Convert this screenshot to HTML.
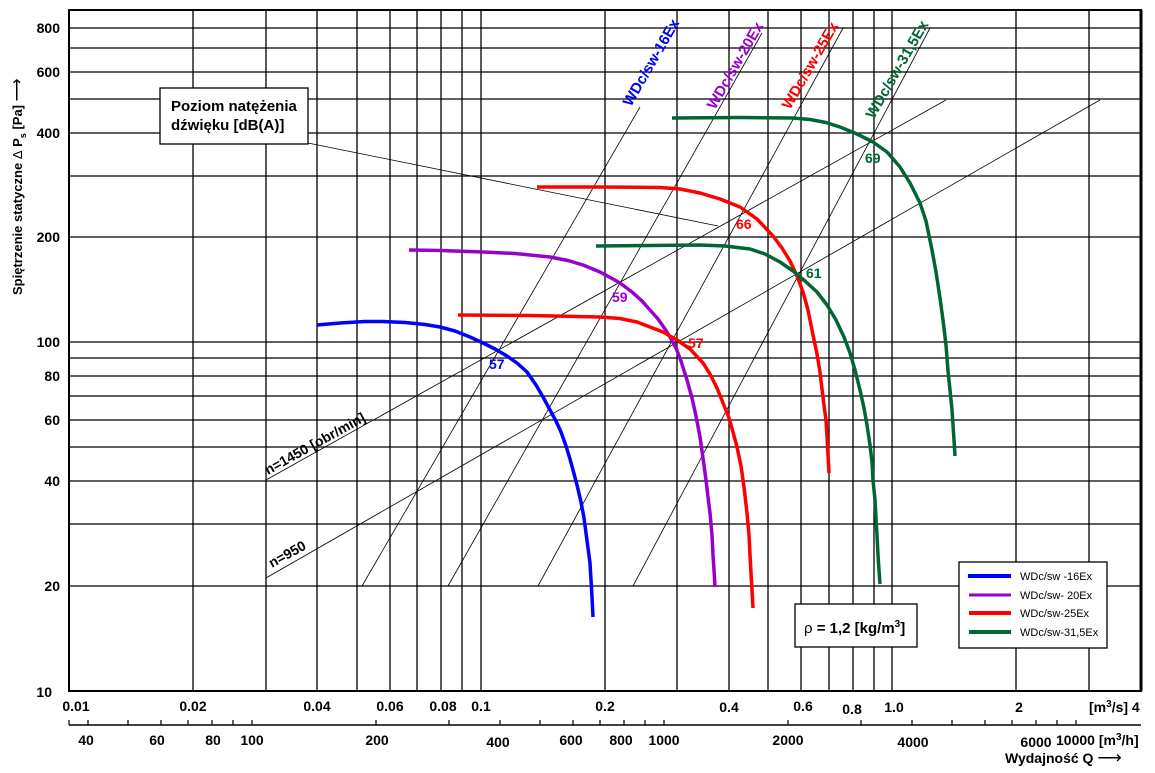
<!DOCTYPE html>
<html><head><meta charset="utf-8"><style>
body{margin:0;background:#fff;width:1155px;height:773px;overflow:hidden}
svg{display:block;font-family:"Liberation Sans",Arial,sans-serif}
</style></head><body>
<svg width="1155" height="773" viewBox="0 0 1155 773">
<g stroke="#000" stroke-width="1.3" fill="none">
<path d="M193 10V691M266 10V691M317 10V691M357 10V691M390 10V691M417 10V691M441 10V691M462 10V691M481 10V691M605 10V691M677 10V691M729 10V691M768 10V691M801 10V691M829 10V691M853 10V691M874 10V691M892 10V691M1016 10V691M1089 10V691"/>
<path d="M69 586H1141M69 524H1141M69 481H1141M69 447H1141M69 420H1141M69 396H1141M69 376H1141M69 358H1141M69 342H1141M69 237H1141M69 176H1141M69 133H1141M69 99H1141M69 72H1141M69 48H1141M69 28H1141"/>
</g>
<rect x="69" y="10" width="1072" height="681" fill="none" stroke="#000" stroke-width="2"/>
<line x1="1141" y1="10" x2="1141" y2="691" stroke="#000" stroke-width="3"/>
<g stroke="#000" stroke-width="0.8" fill="none">
<path d="M362 586L640 107"/>
<path d="M448 586L762 33"/>
<path d="M538 586L843 28"/>
<path d="M633 586L930 28"/>
<path d="M266 480L946 100"/>
<path d="M266 578L1100 100"/>
<path d="M308 143L718 226"/>
</g>
<g fill="none" stroke-width="3.5" stroke-linejoin="round">
<polyline stroke="#0000ff" points="317,325 340,323 365,321.5 383,321.5 405,322.5 425,324.5 440,327 455,331 470,337 483,343 495,349 507,356 517,363 527,372 536,385 543,397 550,410 556,421 561,432 566,446 570,459 573,470 577,485 581,502 584,518 586,533 588,548 590,563 591,580 592,597 593,617"/>
<polyline stroke="#9900cc" points="409,250 440,250.5 483,252 515,253.5 550,257 568,260.5 583,265 600,272 613,279 620,283 632,292 642,301 650,310 658,319 665,329 670,337 676,348 681,361 687,380 692,398 696,416 700,437 703,458 706,480 708,497 710,513 712,535 713,555 714,570 715,587"/>
<polyline stroke="#ff0000" points="458,315 530,315.5 600,317 620,318.5 637,322 650,327 663,332 677,340 690,349 703,363 710,374 717,388 723,403 729,418 733,432 737,447 741,466 744,487 747,513 749,535 750,555 751,573 752,590 753,608"/>
<polyline stroke="#ff0000" points="537,187 600,187 660,187.5 680,189 700,193 720,199 740,207 757,219 773,236 782,248 790,261 797,276 803,292 808,310 813,335 817,354 820,372 822,389 824,405 826,420 827,436 828,455 829,473"/>
<polyline stroke="#006633" points="596,246 650,245.5 700,245 725,246 750,249 765,254 780,262 793,271 805,281 817,292 827,305 836,320 844,337 850,353 855,370 860,390 864,408 867,425 870,445 872,462 873,480 875,500 876,518 877,535 878,555 879,570 880,584"/>
<polyline stroke="#006633" points="672,118 740,117.5 793,118 810,119.5 826,122.5 840,127 857,134 873,142 887,152 900,167 910,183 920,203 926,221 932,250 936,272 940,298 943,320 946,345 948,371 950,390 952,410 953,425 954,440 955,456"/>
</g>
<g font-size="15" font-weight="bold">
<text transform="translate(652,63) rotate(-60)" text-anchor="middle" dominant-baseline="middle" fill="#0000ff">WDc/sw-16Ex</text>
<text transform="translate(736,66) rotate(-60)" text-anchor="middle" dominant-baseline="middle" fill="#9900cc">WDc/sw-20Ex</text>
<text transform="translate(811,66) rotate(-60)" text-anchor="middle" dominant-baseline="middle" fill="#ff0000">WDc/sw-25Ex</text>
<text transform="translate(898,70) rotate(-60)" text-anchor="middle" dominant-baseline="middle" fill="#006633">WDc/sw-31,5Ex</text>
</g>
<g font-size="14" font-weight="bold">
<text x="489" y="369" fill="#0000ff">57</text>
<text x="612" y="302" fill="#9900cc">59</text>
<text x="688" y="348" fill="#ff0000">57</text>
<text x="736" y="229" fill="#ff0000">66</text>
<text x="806" y="278" fill="#006633">61</text>
<text x="865" y="163" fill="#006633">69</text>
</g>
<text transform="translate(268,475) rotate(-29)" font-size="14" font-weight="bold">n=1450 [obr/min]</text>
<text transform="translate(272,568) rotate(-29)" font-size="14" font-weight="bold">n=950</text>
<rect x="160" y="88" width="148" height="56" fill="#fff" stroke="#000" stroke-width="1.3"/>
<text x="171" y="111" font-size="15" font-weight="bold">Poziom natężenia</text>
<text x="171" y="130" font-size="15" font-weight="bold">dźwięku [dB(A)]</text>
<rect x="795" y="604" width="122" height="43" fill="#fff" stroke="#000" stroke-width="1.3"/>
<text x="804" y="633" font-size="15" font-weight="bold"><tspan font-weight="normal">ρ</tspan> = 1,2 [kg/m<tspan font-size="10" dy="-6">3</tspan><tspan dy="6">]</tspan></text>
<rect x="959" y="562" width="148" height="86" fill="#fff" stroke="#000" stroke-width="1.3"/>
<g stroke-width="4">
<line x1="968" y1="576" x2="1011" y2="576" stroke="#0000ff"/>
<line x1="969" y1="595" x2="1011" y2="595" stroke="#9900cc" stroke-width="3"/>
<line x1="969" y1="613" x2="1011" y2="613" stroke="#ff0000"/>
<line x1="969" y1="632" x2="1011" y2="632" stroke="#006633"/>
</g>
<g font-size="11">
<text x="1020" y="580">WDc/sw -16Ex</text>
<text x="1020" y="599">WDc/sw- 20Ex</text>
<text x="1020" y="617">WDc/sw-25Ex</text>
<text x="1020" y="636">WDc/sw-31,5Ex</text>
</g>
<g font-size="14" font-weight="bold" text-anchor="end">
<text x="60" y="33">800</text>
<text x="60" y="77">600</text>
<text x="60" y="138">400</text>
<text x="60" y="242">200</text>
<text x="60" y="347">100</text>
<text x="60" y="381">80</text>
<text x="60" y="425">60</text>
<text x="60" y="486">40</text>
<text x="60" y="591">20</text>
<text x="52" y="697">10</text>
</g>
<text transform="translate(22,295) rotate(-90)" font-size="13" font-weight="bold">Spiętrzenie statyczne <tspan font-weight="normal">Δ</tspan> P<tspan font-size="9" dy="4">s</tspan><tspan dy="-4"> [Pa]</tspan> <tspan font-weight="normal" font-size="16">⟶</tspan></text>
<g font-size="14" font-weight="bold" text-anchor="middle">
<text x="76" y="711">0.01</text>
<text x="193" y="711">0.02</text>
<text x="317" y="711">0.04</text>
<text x="390" y="711">0.06</text>
<text x="443" y="711">0.08</text>
<text x="481" y="711">0.1</text>
<text x="605" y="711">0.2</text>
<text x="729" y="712">0.4</text>
<text x="803" y="711">0.6</text>
<text x="852" y="714">0.8</text>
<text x="894" y="712">1.0</text>
<text x="1019" y="712">2</text>
</g>
<text x="1089" y="712" font-size="14" font-weight="bold">[m<tspan font-size="10" dy="-5">3</tspan><tspan dy="5">/s]  4</tspan></text>
<line x1="69" y1="725" x2="1141" y2="725" stroke="#000" stroke-width="1.5"/>
<g stroke="#000" stroke-width="1.2">
<path d="M69 720V725M88 720V725M128 720V725M161 720V725M188 720V725M212 720V725M233 720V725M252 720V725M376 720V725M449 720V725M500 720V725M540 720V725M573 720V725M600 720V725M624 720V725M645 720V725M664 720V725M788 720V725M861 720V725M912 720V725M952 720V725M985 720V725M1012 720V725M1036 720V725M1057 720V725M1076 720V725"/>
</g>
<g font-size="14" font-weight="bold" text-anchor="middle">
<text x="86" y="745">40</text>
<text x="157" y="745">60</text>
<text x="213" y="745">80</text>
<text x="252" y="745">100</text>
<text x="377" y="745">200</text>
<text x="498" y="747">400</text>
<text x="571" y="745">600</text>
<text x="621" y="745">800</text>
<text x="664" y="745">1000</text>
<text x="788" y="745">2000</text>
<text x="913" y="747">4000</text>
<text x="1036" y="747">6000</text>
</g>
<text x="1056" y="745" font-size="14" font-weight="bold">10000 [m<tspan font-size="10" dy="-5">3</tspan><tspan dy="5">/h]</tspan></text>
<text x="1005" y="763" font-size="14" font-weight="bold">Wydajność Q <tspan font-weight="normal" font-size="17">⟶</tspan></text>
</svg>
</body></html>
